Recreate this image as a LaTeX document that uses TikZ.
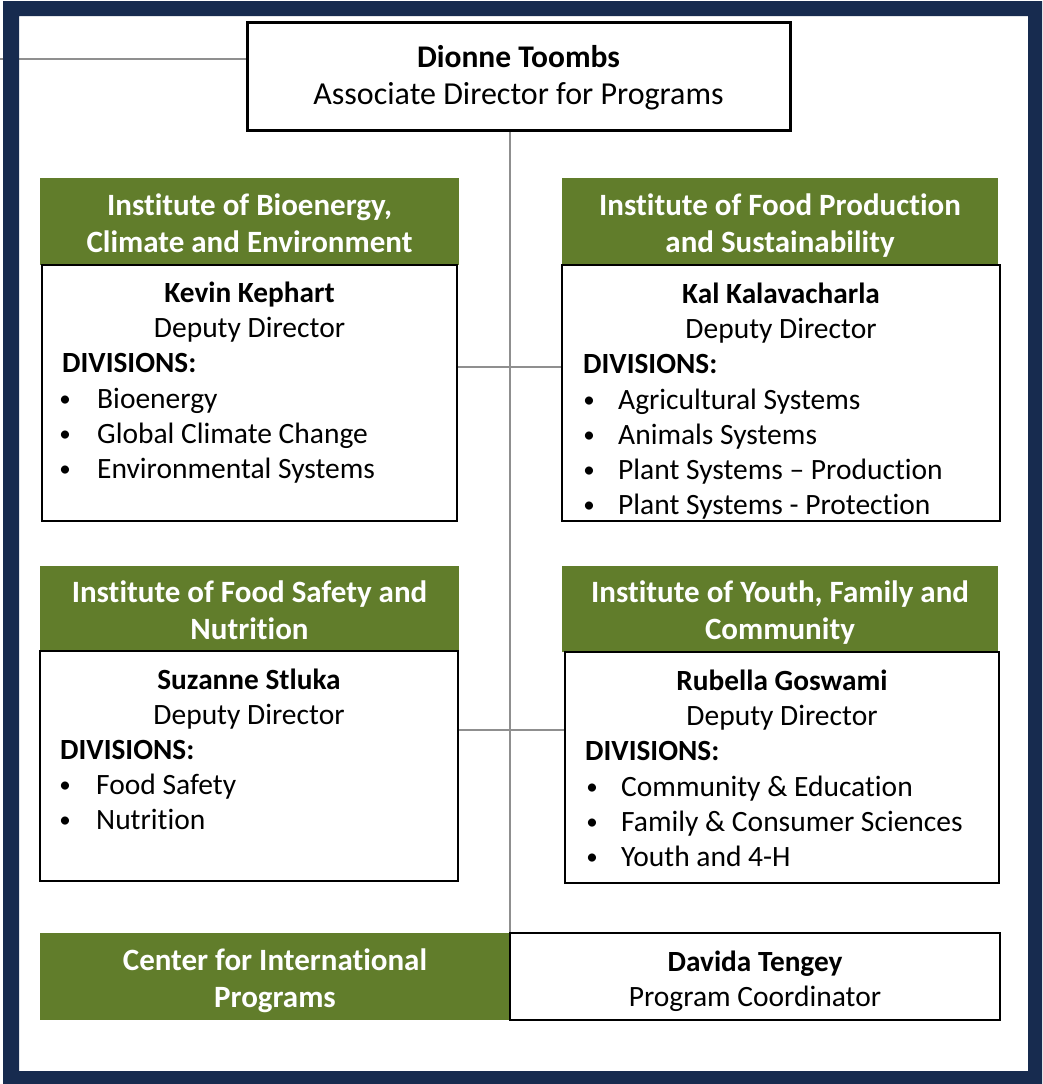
\documentclass[tikz,border=0pt]{standalone}
\usepackage{fontspec}
\setmainfont{Carlito}[RawFeature={-liga}]
\usetikzlibrary{backgrounds}
\definecolor{navy}{HTML}{172B4F}
\definecolor{olive}{HTML}{617D2B}
\definecolor{conn}{HTML}{8F8F8F}
\begin{document}
\begin{tikzpicture}[x=1pt,y=-1pt,
  box/.style={draw=black, line width=2.5pt, fill=white, anchor=north west, inner sep=0pt, outer sep=0pt},
  hdr/.style={fill=olive, anchor=north west, inner sep=0pt, outer sep=0pt},
  conline/.style={draw=conn, line width=2.5pt},
  tname/.style={font=\fontsize{29.3}{35}\selectfont\bfseries, anchor=base, inner sep=0pt},
  trole/.style={font=\fontsize{29.5}{35}\selectfont, anchor=base, inner sep=0pt},
  tdiv/.style={font=\fontsize{29.3}{35}\selectfont\bfseries, anchor=base west, inner sep=0pt},
  titem/.style={font=\fontsize{29.5}{35}\selectfont, anchor=base west, inner sep=0pt},
  tbul/.style={font=\fontsize{23}{35}\selectfont, anchor=base, inner sep=0pt},
  thead/.style={font=\fontsize{31}{37}\selectfont\bfseries, text=white, anchor=base, inner sep=0pt},
  ttop/.style={font=\fontsize{32}{37}\selectfont, anchor=base, inner sep=0pt}]
\useasboundingbox (0,0) rectangle (1042,1084);

% boxes
\node[box, line width=3pt, minimum width=543pt, minimum height=108pt] (top) at (247,22) {};
\node[hdr, minimum width=419pt, minimum height=87pt] (h1L) at (40,178) {};
\node[box, minimum width=415pt, minimum height=256pt] (b1L) at (42,265) {};
\node[hdr, minimum width=436pt, minimum height=87pt] (h1R) at (562,178) {};
\node[box, minimum width=438pt, minimum height=256pt] (b1R) at (562,265) {};
\node[hdr, minimum width=419pt, minimum height=85pt] (h2L) at (40,566) {};
\node[box, minimum width=418pt, minimum height=230pt] (b2L) at (40,651) {};
\node[hdr, minimum width=436pt, minimum height=86pt] (h2R) at (562,566) {};
\node[box, minimum width=434pt, minimum height=231pt] (b2R) at (565,652) {};
\node[hdr, minimum width=470pt, minimum height=87pt] (cip) at (40,933) {};
\node[box, minimum width=490pt, minimum height=87pt] (dt) at (510,933) {};

% background: page, frame, connectors
\begin{pgfonlayer}{background}
\fill[white] (0,0) rectangle (1042,1084);
\coordinate (lend) at (0,59);
\draw[conline, line width=2pt] (lend) -- (top.west |- lend);
\fill[navy, even odd rule] (3,1) rectangle (1042,1084) (19,16) rectangle (1028,1071);
\draw[conline] (top.south -| dt.north west) -- (dt.north west);
\draw[conline] (b1L.east |- 0,367) -- (b1R.west |- 0,367);
\draw[conline] (b2L.east |- 0,730) -- (b2R.west |- 0,730);
\end{pgfonlayer}

% top
\node[tname, font=\fontsize{31.5}{37}\selectfont\bfseries] (t1) at (518.5,67) {Dionne Toombs};
\node[ttop] (t2) at (518.5,104) {Associate Director for Programs};

% headers
\node[thead] (h1La) at (249.5,215) {Institute of Bioenergy,};
\node[thead] (h1Lb) at (249.5,252) {Climate and Environment};
\node[thead] (h1Ra) at (780,215) {Institute of Food Production};
\node[thead] (h1Rb) at (780,252) {and Sustainability};
\node[thead] (h2La) at (249.5,602) {Institute of Food Safety and};
\node[thead] (h2Lb) at (249.5,639) {Nutrition};
\node[thead] (h2Ra) at (780,602) {Institute of Youth, Family and};
\node[thead] (h2Rb) at (780,639) {Community};
\node[thead] (cipa) at (275,970) {Center for International};
\node[thead] (cipb) at (275,1007) {Programs};

% box 1 left
\node[tname] (n1L) at (249.5,302) {Kevin Kephart};
\node[trole] (r1L) at (249.5,337) {Deputy Director};
\node[tdiv] (d1L) at (62,372) {DIVISIONS:};
\node[tbul] (u1La) at (65,406) {•};
\node[tbul] (u1Lb) at (65,441) {•};
\node[tbul] (u1Lc) at (65,476) {•};
\node[titem] (i1La) at (97,408) {Bioenergy};
\node[titem] (i1Lb) at (97,443) {Global Climate Change};
\node[titem] (i1Lc) at (97,478) {Environmental Systems};

% box 1 right
\node[tname] (n1R) at (781,303) {Kal Kalavacharla};
\node[trole] (r1R) at (781,338) {Deputy Director};
\node[tdiv] (d1R) at (583,373) {DIVISIONS:};
\node[tbul] (u1Ra) at (589,407) {•};
\node[tbul] (u1Rb) at (589,442) {•};
\node[tbul] (u1Rc) at (589,477) {•};
\node[tbul] (u1Rd) at (589,512) {•};
\node[titem] (i1Ra) at (618,409) {Agricultural Systems};
\node[titem] (i1Rb) at (618,444) {Animals Systems};
\node[titem] (i1Rc) at (618,479) {Plant Systems – Production};
\node[titem] (i1Rd) at (618,514) {Plant Systems - Protection};

% box 2 left
\node[tname] (n2L) at (249,689) {Suzanne Stluka};
\node[trole] (r2L) at (249,724) {Deputy Director};
\node[tdiv] (d2L) at (60,759) {DIVISIONS:};
\node[tbul] (u2La) at (65,792) {•};
\node[tbul] (u2Lb) at (65,827) {•};
\node[titem] (i2La) at (96,794) {Food Safety};
\node[titem] (i2Lb) at (96,829) {Nutrition};

% box 2 right
\node[tname] (n2R) at (782,690) {Rubella Goswami};
\node[trole] (r2R) at (782,725) {Deputy Director};
\node[tdiv] (d2R) at (585,760) {DIVISIONS:};
\node[tbul] (u2Ra) at (592,794) {•};
\node[tbul] (u2Rb) at (592,829) {•};
\node[tbul] (u2Rc) at (592,864) {•};
\node[titem] (i2Ra) at (621,796) {Community \& Education};
\node[titem] (i2Rb) at (621,831) {Family \& Consumer Sciences};
\node[titem] (i2Rc) at (621,866) {Youth and 4-H};

% bottom right
\node[tname] (dta) at (755,971) {Davida Tengey};
\node[trole] (dtb) at (755,1006) {Program Coordinator};
\end{tikzpicture}
\end{document}
